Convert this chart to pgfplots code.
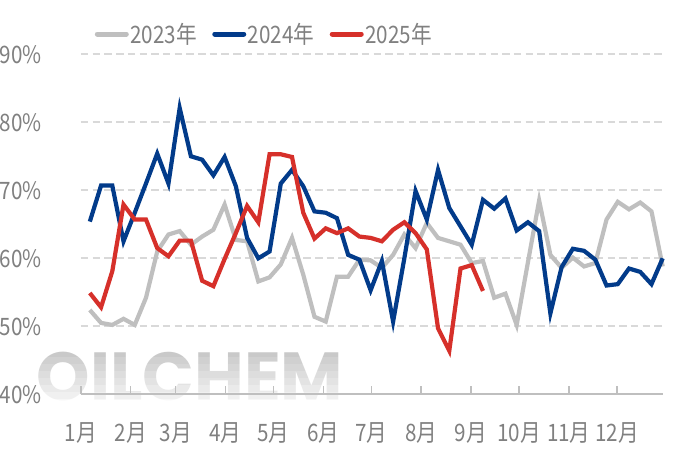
\documentclass[border=0pt]{standalone}
\usepackage{pgfplots}
\pgfplotsset{compat=1.18}
\usepackage{pgfplotstable}
\usepackage{fontspec}
\setmainfont{Noto Sans CJK SC}[FakeStretch=0.86]
\newfontfamily\wmfont{Poppins}
\definecolor{c23}{HTML}{BFBFBF}
\definecolor{c24}{HTML}{023B8A}
\definecolor{c25}{HTML}{D6302A}
\definecolor{txt}{HTML}{808080}
\definecolor{gridc}{HTML}{D9D9D9}
\definecolor{wm}{HTML}{BEBEBE}

\pgfplotstableread{
day y23 y24 y25
5.5 52.4 65.4 54.9
12.5 50.5 70.7 52.8
19.5 50.2 70.7 58.1
26.5 51.1 62.5 67.9
33.5 50.2 66.7 65.7
40.5 54.2 71.0 65.7
47.5 61.0 75.4 61.5
54.5 63.5 71.0 60.3
61.5 64.0 82.1 62.6
68.5 62.0 75.0 62.6
75.5 63.2 74.5 56.7
82.5 64.2 72.2 55.9
89.5 67.9 74.9 59.9
96.5 62.7 70.6 63.7
103.5 62.5 63.0 67.7
110.5 56.6 60.0 65.3
117.5 57.2 61.0 75.3
124.5 59.1 71.0 75.3
131.5 63.0 73.0 74.9
138.5 57.6 70.6 66.7
145.5 51.4 66.9 62.9
152.5 50.7 66.7 64.4
159.5 57.3 65.9 63.7
166.5 57.3 60.5 64.4
173.5 59.8 59.8 63.2
180.5 59.7 55.3 63.0
187.5 58.6 59.6 62.5
194.5 60.5 50.7 64.2
201.5 63.5 60.0 65.3
208.5 61.5 69.9 63.7
215.5 65.2 65.7 61.3
222.5 63.0 73.0 49.7
229.5 62.5 67.4 46.4
236.5 62.0 64.7 58.5
243.5 59.3 62.0 59.0
250.5 59.6 68.6 55.2
257.5 54.2 67.3 nan
264.5 54.8 68.8 nan
271.5 50.2 64.1 nan
278.5 59.4 65.3 nan
285.5 68.5 64.0 nan
292.5 60.5 51.9 nan
299.5 58.6 58.7 nan
306.5 60.1 61.4 nan
313.5 58.8 61.1 nan
320.5 59.3 59.8 nan
327.5 65.7 56.0 nan
334.5 68.3 56.2 nan
341.5 67.2 58.5 nan
348.5 68.2 58.0 nan
355.5 66.9 56.2 nan
362.5 58.8 60.0 nan
}\data

\begin{document}
\begin{tikzpicture}
\useasboundingbox (-81pt,-55.7pt) rectangle (598pt,394.3pt);
\node[text=wm, font=\wmfont\bfseries\fontsize{68}{68}\selectfont, inner sep=0pt, anchor=center] at (109pt,17.3pt) {OILCHEM};
\foreach \i in {0,...,7} {
  \pgfmathsetmacro\op{0.88-0.1*\i}
  \fill[white, fill opacity=\op] (-81pt,{-12pt+7pt*\i}) rectangle (320pt,{-5pt+7pt*\i});
}
\begin{axis}[
  scale only axis, width=581.7pt, height=340pt,
  xmin=0, xmax=362.5, ymin=40, ymax=90,
  axis x line*=bottom, axis y line*=left,
  x axis line style={draw=c23, line width=2pt, -},
  y axis line style={draw=none},
  xtick={0,31,59,90,120,151,181,212,243,273,304,334},
  xticklabels={1月,2月,3月,4月,5月,6月,7月,8月,9月,10月,11月,12月},
  xtick align=inside,
  major tick length=8pt,
  xtick style={draw=c23, line width=1.5pt},
  ytick={40,50,...,90},
  ytick style={draw=none},
  yticklabel={\pgfmathprintnumber{\tick}\%},
  ymajorgrids,
  grid style={draw=gridc, line width=2pt, dash pattern=on 7.5pt off 4.2pt},
  /pgf/number format/assume math mode=true,
  tick label style={font=\fontsize{24}{28}\selectfont, text=txt, inner sep=0pt},
  yticklabel style={anchor=east, xshift=-39pt},
  xticklabel style={anchor=north, yshift=-28pt},
  legend style={draw=none, fill=none, at={(rel axis cs:0.3146,1.0597)}, anchor=center,
    font=\fontsize{24}{28}\selectfont, text=txt, inner sep=0pt,
    nodes={inner sep=1.5pt},
    /tikz/every even column/.append style={column sep=14pt}},
  legend columns=3,
  legend cell align=left,
  legend image code/.code={\draw[line width=5pt, line cap=round, #1] (0pt,0pt) -- (29pt,0pt);},
  clip=false,
]
\addplot[c23, line width=4.2pt] table[x=day, y=y23] {\data};
\addlegendentry{2023年}
\addplot[c24, line width=4.2pt] table[x=day, y=y24] {\data};
\addlegendentry{2024年}
\addplot[c25, line width=4.2pt] table[x=day, y=y25] {\data};
\addlegendentry{2025年}
\end{axis}
\end{tikzpicture}
\end{document}
